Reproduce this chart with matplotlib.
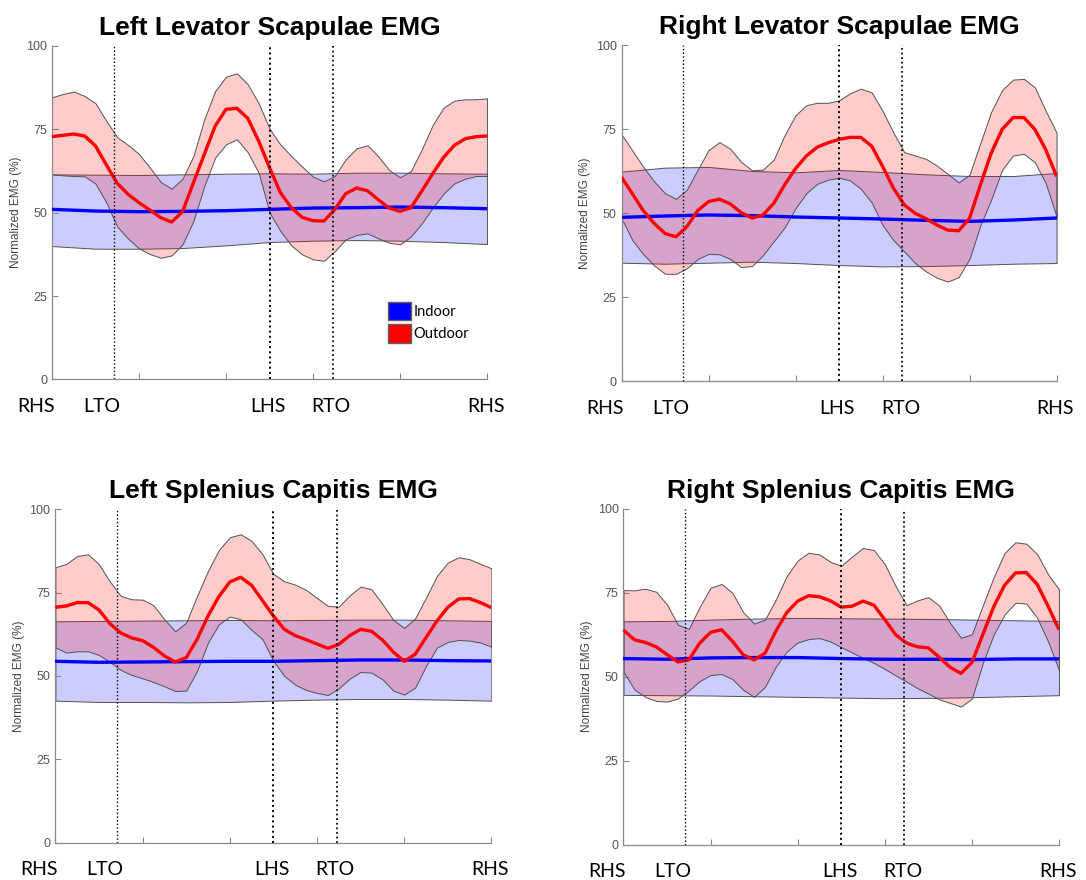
import numpy as np
import matplotlib
matplotlib.use("Agg")
import matplotlib.pyplot as plt
from matplotlib.patches import Patch

# gait cycle (%)
x_out = np.arange(0, 100.1, 2.5)
x_in = np.arange(0, 100.1, 10)

events = [14.2, 50.0, 64.5]          # LTO, LHS, RTO
event_lw = [1.0, 1.4, 1.25]
event_labels = ["RHS", "LTO", "LHS", "RTO", "RHS"]
event_label_x = [-3.7, 11.4, 49.6, 64.1, 99.7]

titles = ["Left Levator Scapulae EMG", "Right Levator Scapulae EMG",
          "Left Splenius Capitis EMG", "Right Splenius Capitis EMG"]

# --- Left levator scapulae ---
ll_out_mean = [72.8, 73.2, 73.6, 73.0, 70.0, 64.3, 58.8, 55.5, 53.0, 50.8, 48.5, 47.2, 50.3, 59.0,
               67.5, 76.0, 81.0, 81.3, 78.3, 71.5, 63.5, 56.0, 51.5, 48.6, 47.6, 47.5, 51.0, 55.7,
               57.4, 56.6, 53.9, 51.4, 50.4, 51.5, 56.5, 61.7, 66.6, 70.2, 72.2, 72.8, 73.0]
ll_out_hi = [84.6, 85.6, 86.3, 85.0, 82.8, 77.5, 72.6, 70.3, 67.6, 63.5, 59.2, 57.2, 60.2, 67.0,
             78.0, 86.5, 90.8, 91.8, 88.5, 82.8, 75.2, 70.4, 67.0, 63.8, 60.8, 59.4, 61.0, 66.0,
             69.3, 70.2, 66.9, 62.8, 60.6, 62.5, 69.0, 76.3, 81.5, 83.6, 84.0, 84.0, 84.3]
ll_out_lo = [61.5, 61.2, 61.0, 60.9, 58.7, 53.0, 45.8, 42.2, 39.3, 37.6, 36.5, 37.2, 40.5, 47.5,
             58.0, 66.5, 70.5, 72.0, 68.1, 62.0, 50.0, 44.5, 40.2, 37.5, 36.0, 35.6, 38.5, 42.0,
             43.3, 43.8, 42.3, 41.0, 40.5, 42.9, 46.8, 51.5, 55.7, 58.8, 60.2, 61.0, 61.0]
ll_in_mean = [51.0, 50.5, 50.3, 50.4, 50.6, 51.0, 51.4, 51.5, 51.7, 51.5, 51.2]
ll_in_hi = [61.5, 61.4, 61.3, 61.5, 61.7, 61.8, 61.7, 62.0, 62.0, 61.8, 61.7]
ll_in_lo = [40.0, 39.2, 39.2, 39.4, 40.2, 41.2, 41.6, 41.8, 41.6, 41.2, 40.6]

# --- Right levator scapulae ---
rl_out_mean = [60.8, 55.8, 50.8, 47.0, 44.0, 43.0, 46.0, 50.8, 53.5, 54.2, 52.8, 50.2, 48.6, 49.5,
               53.0, 58.5, 63.3, 67.1, 69.7, 71.0, 72.0, 72.6, 72.6, 70.0, 64.0, 57.5, 52.5, 50.0,
               48.4, 46.5, 45.0, 44.8, 48.5, 58.5, 68.0, 75.0, 78.5, 78.5, 75.0, 69.0, 61.0]
rl_out_hi = [73.5, 68.7, 63.8, 59.5, 56.0, 54.3, 57.0, 63.0, 68.8, 71.2, 69.2, 65.3, 62.8, 63.0,
             66.0, 73.3, 79.2, 82.2, 82.9, 82.9, 83.6, 85.7, 87.1, 86.0, 80.5, 74.0, 68.2, 67.2,
             66.2, 64.2, 61.7, 59.2, 61.5, 71.0, 80.3, 86.7, 89.8, 90.0, 87.5, 80.5, 74.0]
rl_out_lo = [48.5, 42.0, 37.8, 34.5, 32.0, 32.0, 33.6, 36.4, 37.9, 37.8, 36.4, 34.0, 34.3, 37.5,
             41.7, 45.8, 51.5, 56.0, 58.8, 60.0, 60.6, 59.8, 57.3, 53.2, 46.5, 42.0, 38.6, 35.2,
             32.7, 30.8, 29.7, 31.0, 36.5, 46.5, 54.2, 63.0, 67.2, 67.7, 65.2, 59.0, 49.0]
rl_in_mean = [48.8, 49.2, 49.5, 49.3, 48.9, 48.6, 48.3, 47.9, 47.6, 48.0, 48.6]
rl_in_hi = [62.4, 63.6, 63.8, 62.6, 62.2, 62.9, 62.3, 61.6, 61.1, 61.1, 62.0]
rl_in_lo = [35.3, 35.0, 35.3, 35.6, 35.2, 34.6, 34.2, 34.3, 34.6, 35.0, 35.2]

# --- Left splenius capitis ---
ls_out_mean = [70.6, 71.0, 72.0, 72.0, 69.8, 65.7, 62.9, 61.4, 60.6, 58.6, 56.0, 54.2, 55.5, 61.0,
               68.0, 73.8, 78.2, 79.6, 77.2, 72.6, 68.0, 64.0, 62.1, 60.9, 59.6, 58.3, 59.5, 62.1,
               64.0, 63.4, 60.8, 57.2, 54.4, 56.5, 61.5, 66.5, 70.6, 73.1, 73.2, 72.0, 70.5]
ls_out_hi = [82.6, 83.6, 86.0, 86.5, 83.5, 78.3, 74.0, 73.0, 72.9, 71.2, 67.0, 63.4, 66.0, 74.0,
             81.5, 87.8, 91.6, 92.5, 90.5, 86.5, 80.6, 78.4, 77.4, 75.8, 73.4, 71.0, 70.8, 74.2,
             76.8, 76.0, 71.6, 66.8, 64.4, 67.3, 73.5, 80.0, 84.0, 85.6, 85.0, 83.6, 82.3]
ls_out_lo = [58.6, 57.0, 57.4, 57.4, 56.3, 54.2, 51.8, 50.3, 49.3, 48.2, 46.9, 45.5, 45.6, 51.5,
             60.0, 65.5, 67.8, 67.0, 63.8, 61.0, 54.5, 50.0, 47.4, 45.8, 44.9, 44.3, 46.3, 49.2,
             51.2, 51.0, 49.0, 45.6, 44.4, 46.5, 53.0, 58.5, 60.2, 60.8, 60.6, 60.0, 58.8]
ls_in_mean = [54.4, 54.1, 54.2, 54.3, 54.4, 54.4, 54.6, 54.8, 54.8, 54.6, 54.5]
ls_in_hi = [66.4, 66.5, 66.6, 66.7, 66.8, 66.7, 66.8, 66.9, 66.9, 66.7, 66.5]
ls_in_lo = [42.6, 42.2, 42.2, 42.1, 42.2, 42.6, 42.9, 43.1, 43.1, 42.9, 42.6]

# --- Right splenius capitis ---
rs_out_mean = [63.9, 61.0, 60.2, 58.9, 56.6, 54.4, 55.0, 60.0, 63.2, 64.0, 60.6, 56.5, 55.0, 57.0,
               63.6, 69.1, 72.5, 74.1, 73.8, 72.6, 70.7, 71.0, 72.5, 71.3, 67.0, 62.5, 60.0, 58.9,
               58.6, 55.8, 52.8, 51.0, 54.2, 62.5, 70.8, 77.2, 80.9, 81.0, 77.5, 71.0, 64.0]
rs_out_hi = [75.8, 75.7, 76.2, 75.3, 71.5, 65.5, 64.2, 70.8, 76.5, 77.6, 75.0, 69.2, 65.8, 67.0,
             73.0, 80.0, 84.6, 86.9, 86.4, 84.2, 83.0, 85.8, 88.3, 87.7, 83.5, 77.0, 71.3, 72.7,
             73.7, 71.2, 66.0, 61.6, 62.6, 71.2, 79.6, 86.8, 90.0, 89.6, 86.5, 80.5, 76.0]
rs_out_lo = [51.5, 46.2, 44.0, 42.8, 42.6, 43.5, 45.9, 48.7, 50.5, 50.8, 49.3, 46.1, 44.0, 47.0,
             53.0, 57.5, 60.2, 61.2, 61.5, 60.5, 58.8, 57.2, 55.6, 54.1, 52.3, 50.4, 48.5, 46.6,
             45.0, 43.3, 42.2, 41.1, 43.5, 54.0, 62.5, 68.5, 72.0, 71.8, 67.5, 60.5, 52.0]
rs_in_mean = [55.4, 55.2, 55.6, 55.7, 55.7, 55.4, 55.2, 55.2, 55.1, 55.3, 55.3]
rs_in_hi = [66.5, 66.6, 67.0, 67.3, 67.5, 67.4, 67.3, 67.2, 67.0, 66.8, 66.6]
rs_in_lo = [44.6, 44.5, 44.4, 44.2, 44.0, 43.8, 43.6, 43.7, 43.9, 44.2, 44.5]

panels = [
    (ll_in_mean, ll_in_hi, ll_in_lo, ll_out_mean, ll_out_hi, ll_out_lo),
    (rl_in_mean, rl_in_hi, rl_in_lo, rl_out_mean, rl_out_hi, rl_out_lo),
    (ls_in_mean, ls_in_hi, ls_in_lo, ls_out_mean, ls_out_hi, ls_out_lo),
    (rs_in_mean, rs_in_hi, rs_in_lo, rs_out_mean, rs_out_hi, rs_out_lo),
]

# axes rectangles in figure fractions (1086 x 880 px)
boxes = [
    [0.0479, 0.5688, 0.4006, 0.3790],
    [0.5723, 0.5667, 0.4006, 0.3818],
    [0.0510, 0.0424, 0.4015, 0.3789],
    [0.5741, 0.0401, 0.4010, 0.3818],
]

spine_grey = "#8a8a8a"
edge_grey = "#505050"

fig = plt.figure(figsize=(10.86, 8.80), dpi=100)

for i, (in_m, in_hi, in_lo, out_m, out_hi, out_lo) in enumerate(panels):
    ax = fig.add_axes(boxes[i])

    ax.fill_between(x_in, in_lo, in_hi, facecolor=(0, 0, 1, 0.2),
                    edgecolor=edge_grey, linewidth=0.7, joinstyle="round", zorder=1)
    ax.fill_between(x_out, out_lo, out_hi, facecolor=(1, 0, 0, 0.2),
                    edgecolor=edge_grey, linewidth=0.7, joinstyle="round", zorder=2)
    ax.plot(x_in, in_m, color="#0000ff", lw=2.4, zorder=3, solid_joinstyle="round")
    ax.plot(x_out, out_m, color="#ff0000", lw=2.4, zorder=4,
            solid_joinstyle="round", solid_capstyle="butt")

    for ev, lw in zip(events, event_lw):
        ax.axvline(ev, color="black", linestyle=":", lw=lw, zorder=5)

    ax.set_xlim(0, 100)
    ax.set_ylim(0, 100)
    ax.set_xticks([0, 20, 40, 60, 80, 100])
    ax.set_xticklabels([])
    ax.set_yticks([0, 25, 50, 75, 100])
    ax.tick_params(direction="in", length=4, width=0.8, color=spine_grey,
                   labelcolor="#555555", labelsize=9)
    for lab in ax.get_yticklabels():
        lab.set_fontfamily("Liberation Sans")
    for side in ["top", "right"]:
        ax.spines[side].set_visible(False)
    for side in ["left", "bottom"]:
        ax.spines[side].set_color(spine_grey)
        ax.spines[side].set_linewidth(0.9)

    ax.set_ylabel("Normalized EMG (%)", color="#444444", fontsize=8.5,
                  family="Liberation Sans", labelpad=3)
    ax.set_title(titles[i], fontsize=19, fontweight="bold",
                 family="Liberation Sans", pad=8)

    for lx, lab in zip(event_label_x, event_labels):
        ax.text(lx, -0.08, lab, transform=ax.get_xaxis_transform(),
                ha="center", va="center", fontsize=14, family="Lato",
                clip_on=False)

    if i == 0:
        handles = [Patch(facecolor="#0000ff", edgecolor="#606060", label="Indoor"),
                   Patch(facecolor="#ff0000", edgecolor="#606060", label="Outdoor")]
        ax.legend(handles=handles, loc="upper left", bbox_to_anchor=(0.755, 0.255),
                  frameon=False, handlelength=1.6, handleheight=1.6,
                  handletextpad=0.15, labelspacing=0.25, borderpad=0,
                  prop={"family": "Lato", "size": 10.5})

fig.savefig("out.png", dpi=100)
